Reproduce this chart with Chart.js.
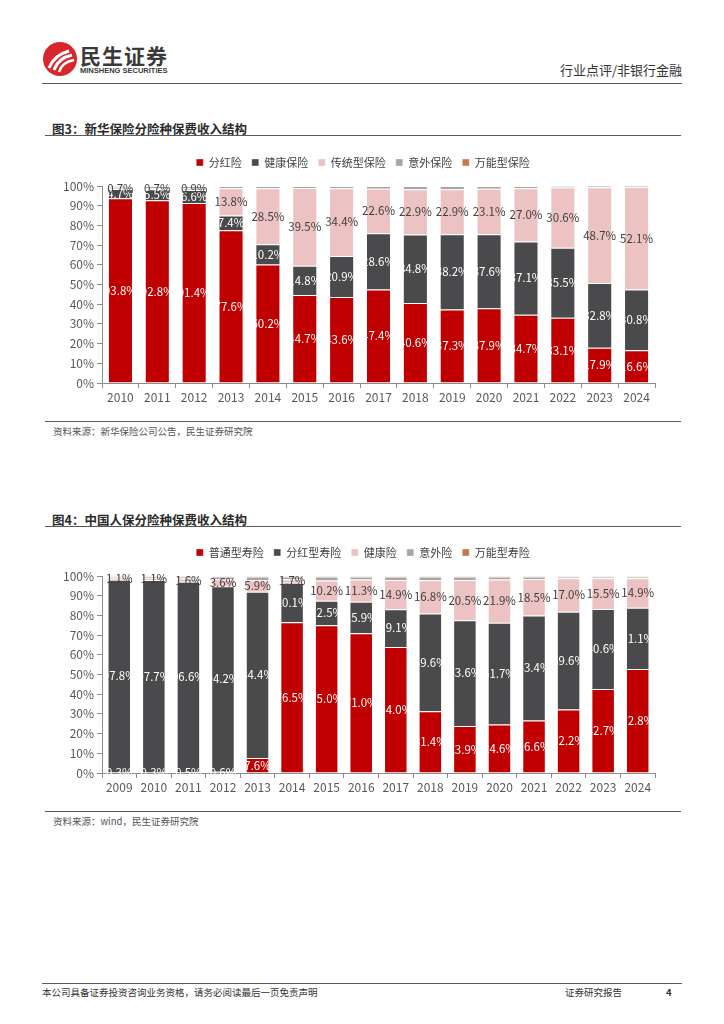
<!DOCTYPE html>
<html>
<head>
<meta charset="utf-8">
<script src="https://cdn.jsdelivr.net/npm/chart.js@4.4.1/dist/chart.umd.min.js"></script>
<style>
  body { margin: 0; background: #fff; font-family: "Noto Sans CJK SC", "Noto Sans", sans-serif; }
  #page { position: relative; width: 724px; height: 1024px; overflow: hidden; }
  .abs { position: absolute; }
  .hline { position: absolute; height: 0; border-top: 1.5px solid #5a5a5a; }
  .title { font-size: 12.5px; font-weight: bold; color: #2b2b2b; }
  .src { font-size: 9.5px; color: #555; }
</style>
</head>
<body>
<div id="page">
  <!-- header -->
  <svg class="abs" style="left:42px;top:41px" width="36" height="36" viewBox="0 0 36 36">
    <circle cx="18" cy="18" r="17" fill="#d9262c"/>
    <path d="M7 27 Q12 14 27 10" stroke="#fff" stroke-width="3" fill="none"/>
    <path d="M12 29 Q16 17 30 14" stroke="#fff" stroke-width="3" fill="none"/>
    <path d="M17 31 Q20 21 32 19" stroke="#fff" stroke-width="2.5" fill="none"/>
  </svg>
  <div class="abs" style="left:80px;top:40px;font-size:21px;font-weight:bold;color:#3a3a3a;letter-spacing:1px">民生证券</div>
  <div class="abs" style="left:80px;top:66px;font-size:7.5px;font-weight:bold;color:#3a3a3a;font-family:'Liberation Sans',sans-serif">MINSHENG SECURITIES</div>
  <div class="abs" style="right:42px;top:60px;font-size:13px;color:#333">行业点评/非银行金融</div>
  <div class="hline" style="left:42px;width:640px;top:83px"></div>

  <!-- chart 1 -->
  <div class="abs title" style="left:52px;top:119px">图3：新华保险分险种保费收入结构</div>
  <div class="hline" style="left:45px;width:636px;top:135px"></div>
  <div class="abs" style="left:40px;top:145px;width:640px;height:268px"><canvas id="c1"></canvas></div>
  <div class="hline" style="left:45px;width:636px;top:421px;border-top-width:1px"></div>
  <div class="abs src" style="left:53px;top:424px">资料来源：新华保险公司公告，民生证券研究院</div>

  <!-- chart 2 -->
  <div class="abs title" style="left:52px;top:510px">图4：中国人保分险种保费收入结构</div>
  <div class="hline" style="left:45px;width:636px;top:526px"></div>
  <div class="abs" style="left:40px;top:535px;width:640px;height:268px"><canvas id="c2"></canvas></div>
  <div class="hline" style="left:45px;width:636px;top:811px;border-top-width:1px"></div>
  <div class="abs src" style="left:53px;top:814px">资料来源：wind，民生证券研究院</div>

  <!-- footer -->
  <div class="hline" style="left:42px;width:640px;top:983px"></div>
  <div class="abs" style="left:42px;top:985px;font-size:9.5px;color:#333">本公司具备证券投资咨询业务资格，请务必阅读最后一页免责声明</div>
  <div class="abs" style="left:565px;top:985px;font-size:9.5px;color:#333">证券研究报告</div>
  <div class="abs" style="left:666px;top:985px;font-size:9.5px;font-weight:bold;color:#333">4</div>
</div>

<script>
// 图3 新华保险
var years1 = ["2010","2011","2012","2013","2014","2015","2016","2017","2018","2019","2020","2021","2022","2023","2024"];
var xhDividend  = [93.8, 92.8, 91.4, 77.6, 60.2, 44.7, 43.6, 47.4, 40.6, 37.3, 37.9, 34.7, 33.1, 17.9, 16.6];
var xhHealth    = [4.7, 5.5, 6.6, 7.4, 10.2, 14.8, 20.9, 28.6, 34.8, 38.2, 37.6, 37.1, 35.5, 32.8, 30.8];
var xhTrad      = [0.7, 0.7, 0.9, 13.8, 28.5, 39.5, 34.4, 22.6, 22.9, 22.9, 23.1, 27.0, 30.6, 48.7, 52.1];
var xhAccident  = [0.8, 1.0, 1.1, 1.2, 1.1, 1.0, 1.1, 1.4, 1.7, 1.6, 1.4, 1.2, 0.8, 0.6, 0.5];
var xhUniversal = [0, 0, 0, 0, 0, 0, 0, 0, 0, 0, 0, 0, 0, 0, 0];

// 图4 中国人保
var years2 = ["2009","2010","2011","2012","2013","2014","2015","2016","2017","2018","2019","2020","2021","2022","2023","2024"];
var rbOrdinary  = [0.3, 0.3, 0.5, 0.6, 7.6, 76.5, 75.0, 71.0, 64.0, 31.4, 23.9, 24.6, 26.6, 32.2, 42.7, 52.8];
var rbDividend  = [97.8, 97.7, 96.6, 94.2, 84.4, 20.1, 12.5, 15.9, 19.1, 49.6, 53.6, 51.7, 53.4, 49.6, 40.6, 31.1];
var rbHealth    = [1.1, 1.1, 1.6, 3.6, 5.9, 1.7, 10.2, 11.3, 14.9, 16.8, 20.5, 21.9, 18.5, 17.0, 15.5, 14.9];
var rbAccident  = [0.6, 0.7, 1.1, 1.4, 1.9, 1.5, 2.1, 1.6, 1.8, 2.0, 1.8, 1.6, 1.3, 1.0, 1.0, 1.0];
var rbUniversal = [0.2, 0.2, 0.2, 0.2, 0.2, 0.2, 0.2, 0.2, 0.2, 0.2, 0.2, 0.2, 0.2, 0.2, 0.2, 0.2];

var RED = '#c00000', DARK = '#4a4a4c', PINK = '#ecc2c2', GREY = '#a6a6a6', ORANGE = '#c8784a';
var FONT = '"Noto Sans CJK SC", "Noto Sans", sans-serif';

// draws the % value in the middle of each segment (datasets with showLabel set)
var segLabels = {
  id: 'segLabels',
  afterDatasetsDraw: function(chart) {
    var ctx = chart.ctx;
    ctx.save();
    ctx.font = '11.5px ' + FONT;
    ctx.textAlign = 'center';
    ctx.textBaseline = 'middle';
    chart.data.datasets.forEach(function(ds, i) {
      if (!ds.showLabel) return;
      ctx.fillStyle = ds.labelColor;
      chart.getDatasetMeta(i).data.forEach(function(bar, j) {
        var y = (bar.y + bar.base) / 2;
        ctx.fillText(ds.data[j].toFixed(1) + '%', bar.x, y);
      });
    });
    ctx.restore();
  }
};

// more room under the legend, and centre it over the plot instead of the canvas
var legendGap = {
  id: 'legendGap',
  beforeInit: function(chart) {
    var fit = chart.legend.fit;
    chart.legend.fit = function() {
      fit.bind(chart.legend)();
      this.height += 8;
    };
  },
  afterLayout: function(chart) {
    chart.legend.left += 31;
  }
};

function ds(label, data, color, showLabel, labelColor) {
  return {
    label: label, data: data, backgroundColor: color,
    borderColor: 'rgba(255,255,255,0.35)', borderWidth: 1,
    barPercentage: 0.68, categoryPercentage: 1.0,
    showLabel: showLabel, labelColor: labelColor
  };
}

function makeChart(id, labels, datasets) {
  return new Chart(document.getElementById(id), {
    type: 'bar',
    data: { labels: labels, datasets: datasets },
    plugins: [segLabels, legendGap],
    options: {
      responsive: true,
      maintainAspectRatio: false,
      animation: false,
      layout: { padding: { left: 0, right: 25, top: 2, bottom: 0 } },
      plugins: {
        legend: {
          display: true,
          position: 'top',
          labels: {
            boxWidth: 7, boxHeight: 7, padding: 10,
            color: '#404040',
            font: { size: 11, family: FONT }
          }
        },
        tooltip: { enabled: false }
      },
      scales: {
        x: {
          stacked: true,
          grid: { display: true, drawOnChartArea: false, drawTicks: true, tickLength: 5, color: '#8c8c8c', offset: true },
          border: { display: true, color: '#8c8c8c' },
          ticks: { color: '#595959', font: { size: 12, family: FONT }, padding: 2 },
          afterFit: function(s) { s.height = 30; }
        },
        y: {
          stacked: true,
          min: 0, max: 100,
          grid: { display: true, drawOnChartArea: false, drawTicks: true, tickLength: 5, color: '#8c8c8c' },
          border: { display: true, color: '#8c8c8c' },
          ticks: { stepSize: 10, color: '#595959', font: { size: 12, family: FONT }, padding: 3,
                   callback: function(v) { return v + '%'; } },
          afterFit: function(s) { s.width = 62; }
        }
      }
    }
  });
}

makeChart('c1', years1, [
  ds('分红险', xhDividend, RED, true, '#ffffff'),
  ds('健康保险', xhHealth, DARK, true, '#ffffff'),
  ds('传统型保险', xhTrad, PINK, true, '#404040'),
  ds('意外保险', xhAccident, GREY, false),
  ds('万能型保险', xhUniversal, ORANGE, false)
]);

makeChart('c2', years2, [
  ds('普通型寿险', rbOrdinary, RED, true, '#ffffff'),
  ds('分红型寿险', rbDividend, DARK, true, '#ffffff'),
  ds('健康险', rbHealth, PINK, true, '#404040'),
  ds('意外险', rbAccident, GREY, false),
  ds('万能型寿险', rbUniversal, ORANGE, false)
]);
</script>
</body>
</html>
